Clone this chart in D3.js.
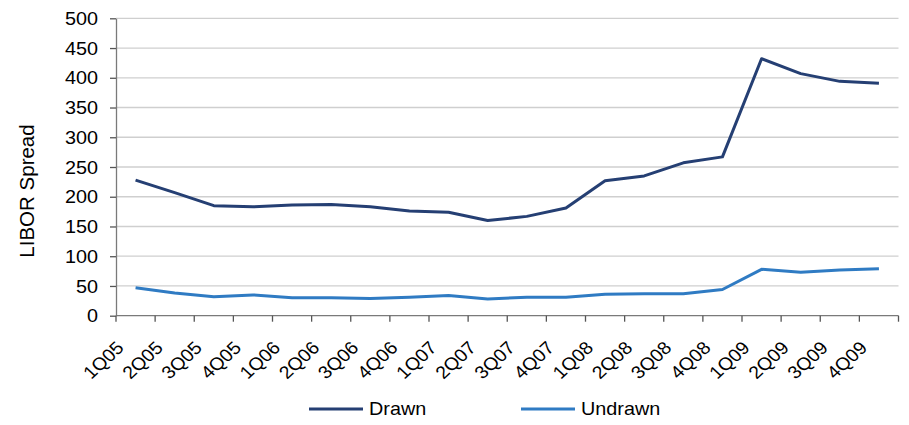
<!DOCTYPE html>
<html>
<head>
<meta charset="utf-8">
<script src="https://cdn.jsdelivr.net/npm/d3@7"></script>
<style>
  html, body { margin: 0; padding: 0; background: #fff; }
  svg { display: block; font-family: "Liberation Sans", Arial, sans-serif; }
</style>
</head>
<body>
<svg id="chart" width="909" height="425"></svg>
<script>
// Quarterly LIBOR spreads (bp) on drawn and undrawn facilities
const quarters = ["1Q05","2Q05","3Q05","4Q05","1Q06","2Q06","3Q06","4Q06","1Q07","2Q07",
                  "3Q07","4Q07","1Q08","2Q08","3Q08","4Q08","1Q09","2Q09","3Q09","4Q09"];
const drawn   = [228, 207, 185, 183, 186, 187, 183, 176, 174, 160,
                 167, 181, 227, 235, 257, 267, 432, 407, 394, 391];
const undrawn = [47, 38, 32, 35, 30, 30, 29, 31, 34, 28,
                 31, 31, 36, 37, 37, 44, 78, 73, 77, 79];
const yTicks = [0, 50, 100, 150, 200, 250, 300, 350, 400, 450, 500];
const seriesNames = ["Drawn", "Undrawn"];
const seriesColors = ["#253f73", "#2f7bc3"];

const svg = d3.select("#chart");
const plotLeft = 116, plotRight = 898.5, plotTop = 18.3, plotBottom = 315.7;

const x = d3.scaleBand().domain(quarters).range([plotLeft, plotRight]).padding(0);
const y = d3.scaleLinear().domain([0, 500]).range([plotBottom, plotTop]);
const cx = q => x(q) + x.bandwidth() / 2;

// horizontal gridlines
svg.append("g")
  .selectAll("line")
  .data(yTicks.filter(v => v > 0))
  .join("line")
  .attr("x1", plotLeft).attr("x2", plotRight)
  .attr("y1", d => y(d)).attr("y2", d => y(d))
  .attr("stroke", "#cfcfcf").attr("stroke-width", 1.3);

// value axis
const yAxis = svg.append("g")
  .attr("transform", `translate(${plotLeft},0)`)
  .call(d3.axisLeft(y).tickValues(yTicks).tickSize(6).tickPadding(12).tickSizeOuter(0));
yAxis.select(".domain").attr("stroke", "#7a7a7a").attr("stroke-width", 1.3);
yAxis.selectAll(".tick line").attr("stroke", "#555").attr("stroke-width", 1.3);
yAxis.selectAll(".tick text")
  .attr("font-size", 18).attr("fill", "#000")
  .attr("font-family", "Liberation Sans, Arial, sans-serif")
  .attr("dy", null)
  .attr("dominant-baseline", "central")
  .attr("transform", function () {
    const t = d3.select(this);
    const tx = +t.attr("x");
    t.attr("x", 0);
    return `translate(${tx},0) scale(1.1,1)`;
  });

// category axis: line and ticks on quarter boundaries
const xAxis = svg.append("g");
xAxis.append("line")
  .attr("x1", plotLeft).attr("x2", plotRight)
  .attr("y1", plotBottom).attr("y2", plotBottom)
  .attr("stroke", "#7a7a7a").attr("stroke-width", 1.3);
const bounds = quarters.map(q => x(q)).concat([plotRight]);
xAxis.selectAll("line.tk")
  .data(bounds)
  .join("line")
  .attr("class", "tk")
  .attr("x1", d => d).attr("x2", d => d)
  .attr("y1", plotBottom).attr("y2", plotBottom + 6)
  .attr("stroke", "#555").attr("stroke-width", 1.3);
xAxis.selectAll("text")
  .data(quarters)
  .join("text")
  .attr("text-anchor", "end")
  .attr("font-size", 18)
  .attr("fill", "#000")
  .attr("transform", d => `translate(${cx(d) - 10.6},349) scale(1.08,1) rotate(-45)`)
  .text(d => d);

// axis title
svg.append("text")
  .attr("transform", `translate(34,191) rotate(-90)`)
  .attr("text-anchor", "middle")
  .attr("font-size", 20.5)
  .attr("fill", "#000")
  .text("LIBOR Spread");

// series lines
const line = d3.line().x((d, i) => cx(quarters[i])).y(d => y(d));
[drawn, undrawn].forEach((vals, k) => {
  svg.append("path")
    .datum(vals)
    .attr("d", line)
    .attr("fill", "none")
    .attr("stroke", seriesColors[k])
    .attr("stroke-width", 3)
    .attr("stroke-linejoin", "round");
});

// legend
const legendX = [309, 521];
const legend = svg.append("g");
seriesNames.forEach((name, k) => {
  legend.append("line")
    .attr("x1", legendX[k]).attr("x2", legendX[k] + 54)
    .attr("y1", 409).attr("y2", 409)
    .attr("stroke", seriesColors[k]).attr("stroke-width", 3);
  legend.append("text")
    .attr("transform", `translate(${legendX[k] + 60},415) scale(1.1,1)`)
    .attr("font-size", 18)
    .attr("fill", "#000")
    .text(name);
});
</script>
</body>
</html>
